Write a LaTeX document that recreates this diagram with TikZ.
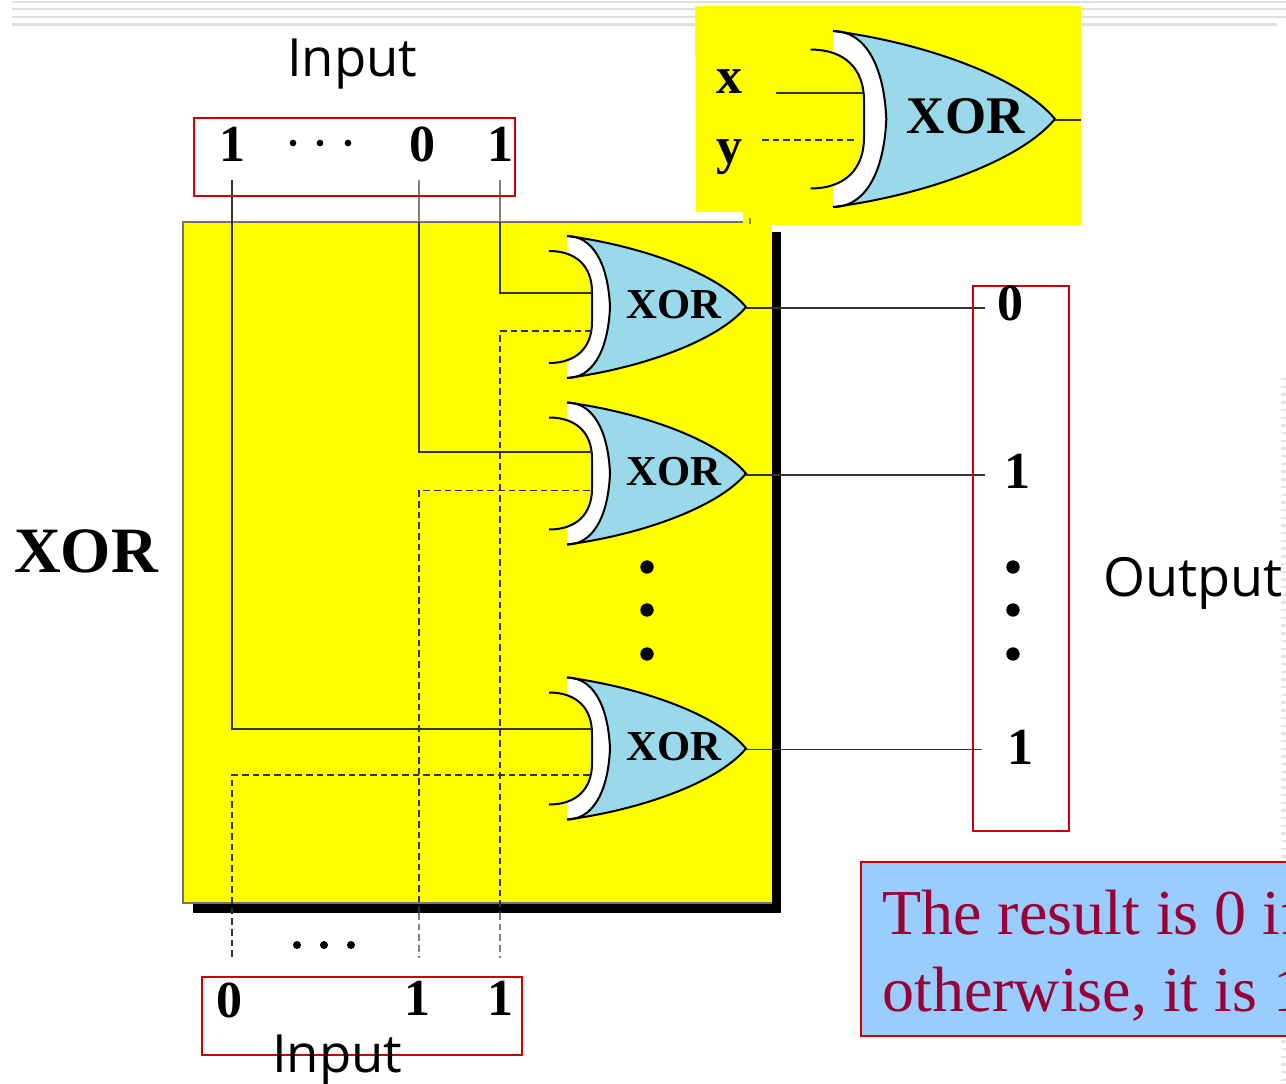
\documentclass[tikz,border=0pt]{standalone}
\usepackage{fontspec}
\setmainfont{Liberation Serif}
\newfontfamily\uisans{Open Sans}
\definecolor{gateblue}{HTML}{99D9EA}
\definecolor{panelyellow}{HTML}{FFFF00}
\definecolor{boxred}{HTML}{CC0000}
\definecolor{noteblue}{HTML}{99CCFF}
\definecolor{notetext}{HTML}{990033}
\tikzset{
  digit/.style={anchor=base,inner sep=0pt,font=\fontsize{39}{44}\selectfont\bfseries},
  sanslabel/.style={anchor=base west,inner sep=0pt,font=\uisans\fontsize{39.5}{44}\selectfont},
  redbox/.style={draw=boxred,line width=2pt,inner sep=0pt,outer sep=0pt,anchor=north west},
  wire/.style={draw=black!80,line width=1pt},
  graywire/.style={draw=black!50,line width=1pt},
  dwire/.style={draw=black!80,line width=1.1pt,dash pattern=on 5pt off 3pt},
  graydwire/.style={draw=black!50,line width=1.1pt,dash pattern=on 5pt off 3pt},
  gatedot/.style={circle,fill=black,inner sep=0pt,minimum size=10pt},
  smalldot/.style={circle,fill=black,inner sep=0pt,minimum size=5pt},
  xorgate/.pic={
    \path[fill=gateblue] (0,-71) .. controls (70,-62) and (150,-35) .. (179,0)
       .. controls (150,35) and (70,62) .. (0,71)
       .. controls (25,71) and (41,45) .. (43,0)
       .. controls (41,-45) and (25,-71) .. (0,-71) -- cycle;
    \begin{scope}
      \clip (0,-75) rectangle (60,75);
      \path[fill=white] (0,-71) .. controls (25,-71) and (41,-45) .. (43,0)
        .. controls (41,45) and (25,71) .. (0,71) -- (-20,71) -- (-20,56)
        .. controls (10,56) and (25,40) .. (25,15) -- (25,-15)
        .. controls (25,-40) and (10,-56) .. (-20,-56) -- (-20,-71) -- cycle;
    \end{scope}
    \draw[black,line width=1.5pt] (0,-71) .. controls (70,-62) and (150,-35) .. (179,0)
       .. controls (150,35) and (70,62) .. (0,71);
    \draw[black,line width=1.5pt] (0,-71) .. controls (25,-71) and (41,-45) .. (43,0)
        .. controls (41,45) and (25,71) .. (0,71);
    \draw[black,line width=1.5pt] (-18,56) .. controls (10,56) and (25,40) .. (25,15) -- (25,-15)
        .. controls (25,-40) and (10,-56) .. (-18,-56);
    \node[inner sep=0pt,transform shape,font=\fontsize{32}{36}\selectfont\bfseries] (-label) at (107,-2) {XOR};
    \coordinate (-out) at (179,0);
  }
}
\begin{document}
\begin{tikzpicture}[x=0.75pt,y=-0.75pt]
\useasboundingbox (0,0) rectangle (1286,1083);
\fill[white] (0,0) rectangle (1286,1083);
% faint slide stripes
\foreach \yy/\xe in {2/1286,9/1286,17/1286,24.5/1277} \fill[black!12] (12,\yy-1.2) rectangle (\xe,\yy+1.2);
\foreach \yy in {378,385.7,...,1083} \fill[black!10] (1281,\yy) rectangle (1286,\yy+2.4);

% main panel
\fill[black] (193,232) rectangle (781,913);
\fill[panelyellow] (183,222) rectangle (772,903);
\draw[black!55,line width=0.8pt] (772,222) -- (183,222) -- (183,903) -- (772,903);

% inset panel
\fill[panelyellow] (695,6) -- (1081,6) -- (1081,225) -- (772,225) -- (772,223) -- (743,223) -- (743,212) -- (696,212) -- cycle;
\draw[black!45!panelyellow,line width=1.2pt] (750,218) -- (750,224);

% gates
\pic (g1) at (567,307) {xorgate};
\pic (g2) at (567,473.5) {xorgate};
\pic (g3) at (567,748.5) {xorgate};
\pic[scale=1.24,transform shape] (g0) at (833,119) {xorgate};

% coordinates for wire ends
\coordinate (ta) at (232,180); \coordinate (tb) at (419,180); \coordinate (tc) at (500,180);
\coordinate (pb) at (419,222); \coordinate (pc) at (500,222);
\coordinate (qb) at (419,913); \coordinate (qc) at (500,913);
\coordinate (ba) at (232,958); \coordinate (bb) at (419,958); \coordinate (bc) at (500,958);
\coordinate (g1a) at (592,293); \coordinate (g1b) at (592,331);
\coordinate (g2a) at (592,452); \coordinate (g2b) at (590,490.5);
\coordinate (g3a) at (592,729); \coordinate (g3b) at (590,775);
\coordinate (o1) at (985,308); \coordinate (o2) at (985,475); \coordinate (o3) at (982,749.5);
\coordinate (xs) at (776,93); \coordinate (xe) at (863,93);
\coordinate (ys) at (762,140); \coordinate (ye) at (857,140);
\coordinate (zo) at (1081,120);

% wires
\draw[graywire] (tc) -- (pc);
\draw[graywire] (tb) -- (pb);
\draw[wire] (pc) |- (g1a);
\draw[dwire] (g1b) -| (qc);
\draw[graydwire] (qc) -- (bc);
\draw[wire] (pb) |- (g2a);
\draw[dwire] (g2b) -| (qb);
\draw[graydwire] (qb) -- (bb);
\draw[wire] (ta) |- (g3a);
\draw[dwire] (g3b) -| (ba);
\draw[wire] (g1-out |- o1) -- (o1);
\draw[wire] (g2-out |- o2) -- (o2);
\draw[wire] (g3-out |- o3) -- (o3);
\draw[wire] (xs) -- (xe);
\draw[dwire] (ys) -- (ye);
\draw[wire] (g0-out |- zo) -- (zo);

% red boxes
\node[redbox,minimum width=0.75pt*321,minimum height=0.75pt*78] (inbox) at (194,118) {};
\node[redbox,minimum width=0.75pt*96,minimum height=0.75pt*545] (outbox) at (973,286) {};
\node[redbox,minimum width=0.75pt*320,minimum height=0.75pt*78] (inbox2) at (202,977) {};

% labels
\node[sanslabel] (lin) at (287,76) {Input};
\node[sanslabel] (lin2) at (272,1072) {Input};
\node[sanslabel,font=\uisans\fontsize{40.5}{44}\selectfont] (lout) at (1103,596) {Output};
\node[anchor=base west,inner sep=0pt,font=\fontsize{48.5}{54}\selectfont\bfseries] (lxor) at (14,572) {XOR};

\node[digit] (d1) at (232,161) {1};
\node[digit] (d2) at (422,161) {0};
\node[digit] (d3) at (500,161) {1};
\node[digit] (e1) at (229,1017) {0};
\node[digit] (e2) at (417,1015) {1};
\node[digit] (e3) at (500,1015) {1};
\node[digit] (o0l) at (1010,320) {0};
\node[digit] (o1l) at (1017,488) {1};
\node[digit] (o2l) at (1020,764) {1};
\node[digit] (lx) at (729,93) {x};
\node[digit] (ly) at (729,163) {y};

% dots
\foreach \n/\xx in {a/293,b/320,c/348} \node[smalldot] (t\n) at (\xx,143) {};
\foreach \n/\xx in {a/297,b/324,c/351} \node[smalldot,minimum size=6pt] (u\n) at (\xx,945) {};
\foreach \n/\yy in {a/567,b/610,c/654} {
  \node[gatedot] (m\n) at (647,\yy) {};
  \node[gatedot] (r\n) at (1013,\yy) {};
}

% note
\path[fill=noteblue,draw=boxred,line width=1.4pt] (861,862) rectangle (1296,1036);
\node[anchor=base west,inner sep=0pt,text=notetext,font=\fontsize{48}{54}\selectfont] (n1) at (882,934) {The result is 0 if};
\node[anchor=base west,inner sep=0pt,text=notetext,font=\fontsize{48}{54}\selectfont] (n2) at (882,1011) {otherwise, it is 1};
\end{tikzpicture}
\end{document}
